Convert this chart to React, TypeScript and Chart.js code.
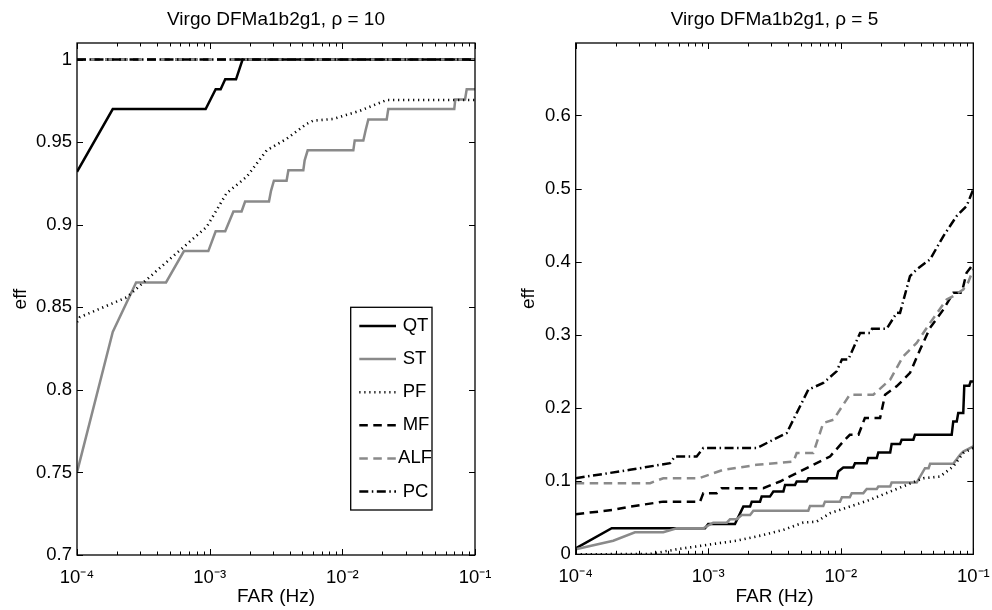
import React, { useEffect, useRef } from 'react';
import { Chart, registerables } from 'chart.js';
Chart.register(...registerables);

const FONT = "'Liberation Sans', Arial, Helvetica, sans-serif";

// ---- tick labels ----
const xTickValues = [1e-4, 1e-3, 1e-2, 1e-1];
const xTickLabels = ['10\u207B\u2074', '10\u207B\u00B3', '10\u207B\u00B2', '10\u207B\u00B9'];
const leftYTicks = [0.7, 0.75, 0.8, 0.85, 0.9, 0.95, 1];
const rightYTicks = [0, 0.1, 0.2, 0.3, 0.4, 0.5, 0.6];
const seriesNames = ['QT', 'ST', 'PF', 'MF', 'ALF', 'PC'];
const titleLeft = 'Virgo DFMa1b2g1, \u03C1 = 10';
const titleRight = 'Virgo DFMa1b2g1, \u03C1 = 5';

// ---- rho = 10 ----
const qt10X = [1e-4, 1.86e-4, 9.33e-4, 1.11e-3, 1.21e-3, 1.31e-3, 1.58e-3, 1.77e-3, 1e-1];
const qt10Y = [0.932, 0.97, 0.97, 0.982, 0.982, 0.988, 0.988, 1.0, 1.0];
const st10X = [1e-4, 1.86e-4, 2.79e-4, 4.69e-4, 6.4e-4, 9.77e-4, 1.11e-3, 1.31e-3, 1.51e-3, 1.74e-3, 1.85e-3, 2.8e-3, 2.9e-3, 3.05e-3, 3.8e-3, 3.92e-3, 5.08e-3, 5.2e-3, 5.48e-3, 1.21e-2, 1.24e-2, 1.44e-2, 1.5e-2, 1.57e-2, 2.16e-2, 2.22e-2, 6.98e-2, 7.1e-2, 8.41e-2, 8.66e-2, 1e-1];
const st10Y = [0.75, 0.835, 0.865, 0.865, 0.884, 0.884, 0.896, 0.896, 0.908, 0.908, 0.914, 0.914, 0.9205, 0.9266, 0.9266, 0.933, 0.933, 0.939, 0.945, 0.945, 0.951, 0.951, 0.9573, 0.9637, 0.9637, 0.97, 0.97, 0.9758, 0.9758, 0.982, 0.982];
const pf10X = [1e-4, 1.05e-4, 2.37e-4, 3.55e-4, 5.98e-4, 9.5e-4, 1.34e-3, 1.9e-3, 2.69e-3, 3.8e-3, 5.38e-3, 6.03e-3, 8.55e-3, 1.36e-2, 2.16e-2, 1e-1];
const pf10Y = [0.841, 0.844, 0.856, 0.8685, 0.8846, 0.8987, 0.919, 0.929, 0.945, 0.952, 0.961, 0.963, 0.964, 0.969, 0.9755, 0.9755];
const mf10X = [1e-4, 1e-1];
const mf10Y = [1, 1];
const alf10X = [1e-4, 1e-1];
const alf10Y = [1, 1];
const pc10X = [1e-4, 1e-1];
const pc10Y = [1, 1];

// ---- rho = 5 ----
const qt5X = [1e-4, 1.87e-4, 9.46e-4, 1e-3, 1.59e-3, 1.84e-3, 2.07e-3, 2.13e-3, 2.46e-3, 2.53e-3, 2.92e-3, 3.1e-3, 3.69e-3, 3.8e-3, 4.52e-3, 4.65e-3, 5.53e-3, 5.69e-3, 9.3e-3, 9.57e-3, 1.045e-2, 1.24e-2, 1.28e-2, 1.57e-2, 1.61e-2, 1.87e-2, 1.92e-2, 2.36e-2, 2.42e-2, 2.8e-2, 2.88e-2, 3.53e-2, 3.63e-2, 6.87e-2, 7.06e-2, 7.5e-2, 7.7e-2, 8.4e-2, 8.55e-2, 9.33e-2, 9.55e-2, 1e-1];
const qt5Y = [0.008, 0.0356, 0.0356, 0.0415, 0.0415, 0.0652, 0.0652, 0.072, 0.072, 0.0789, 0.0789, 0.0858, 0.0858, 0.0949, 0.0949, 0.0995, 0.0995, 0.104, 0.104, 0.1132, 0.1187, 0.1187, 0.1246, 0.1246, 0.1315, 0.1315, 0.1392, 0.1392, 0.1507, 0.1507, 0.1566, 0.1566, 0.1634, 0.1634, 0.1816, 0.1816, 0.1932, 0.1932, 0.2305, 0.2305, 0.2364, 0.2364];
const st5X = [1e-4, 1.92e-4, 2.8e-4, 4.58e-4, 5.78e-4, 9.18e-4, 1.09e-3, 1.38e-3, 1.46e-3, 1.64e-3, 1.79e-3, 2.07e-3, 2.19e-3, 5.69e-3, 5.86e-3, 7.38e-3, 7.6e-3, 9.87e-3, 1.02e-2, 1.17e-2, 1.21e-2, 1.48e-2, 1.57e-2, 1.87e-2, 1.92e-2, 2.36e-2, 2.42e-2, 3.74e-2, 4.32e-2, 4.6e-2, 4.72e-2, 7.06e-2, 7.94e-2, 8.4e-2, 1e-1];
const st5Y = [0.0068, 0.0186, 0.0301, 0.0301, 0.0356, 0.0356, 0.0433, 0.0433, 0.0479, 0.0479, 0.0538, 0.0538, 0.0597, 0.0597, 0.0662, 0.0662, 0.072, 0.072, 0.078, 0.078, 0.0836, 0.0836, 0.0894, 0.0894, 0.0926, 0.0926, 0.0981, 0.0981, 0.1178, 0.1178, 0.1237, 0.1237, 0.136, 0.1405, 0.1474];
const pf5X = [1e-4, 3.64e-4, 5.78e-4, 9.73e-4, 1.64e-3, 2.6e-3, 3.68e-3, 5.21e-3, 6.57e-3, 8.3e-3, 1.17e-2, 1.66e-2, 2.36e-2, 3.15e-2, 4.2e-2, 5.61e-2, 7.06e-2, 8.4e-2, 1e-1];
const pf5Y = [0, 0.0004, 0.0068, 0.0128, 0.0186, 0.0264, 0.0333, 0.0433, 0.0447, 0.0562, 0.0652, 0.0744, 0.0858, 0.0949, 0.104, 0.1063, 0.12, 0.1384, 0.1452];
const mf5X = [1e-4, 1.92e-4, 2.57e-4, 4.58e-4, 8.67e-4, 9.18e-4, 1.16e-3, 1.26e-3, 2.6e-3, 3.48e-3, 4.65e-3, 5.86e-3, 8.3e-3, 1.045e-2, 1.17e-2, 1.36e-2, 1.52e-2, 1.98e-2, 2.16e-2, 2.64e-2, 3.33e-2, 3.97e-2, 4.72e-2, 5.95e-2, 7.06e-2, 8.18e-2, 8.9e-2, 1e-1];
const mf5Y = [0.0548, 0.0607, 0.0652, 0.072, 0.072, 0.0836, 0.0836, 0.0904, 0.0904, 0.0995, 0.111, 0.12, 0.1337, 0.1542, 0.1634, 0.1634, 0.1863, 0.1863, 0.2182, 0.2296, 0.248, 0.2799, 0.3096, 0.3347, 0.3575, 0.3575, 0.385, 0.397];
const alf5X = [1e-4, 3.64e-4, 4.58e-4, 8.5e-4, 1.3e-3, 2.32e-3, 4.4e-3, 4.65e-3, 6.2e-3, 7.38e-3, 8.8e-3, 1.17e-2, 1.76e-2, 2.36e-2, 2.96e-2, 3.74e-2, 4.72e-2, 6.3e-2, 7.06e-2, 8.4e-2, 9.16e-2, 1e-1];
const alf5Y = [0.0973, 0.0973, 0.104, 0.104, 0.1155, 0.1223, 0.1269, 0.1384, 0.1384, 0.1795, 0.184, 0.2182, 0.2182, 0.2388, 0.2707, 0.289, 0.3164, 0.3484, 0.3529, 0.362, 0.372, 0.39];
const pc5X = [1e-4, 2.57e-4, 5.15e-4, 5.61e-4, 8.18e-4, 9.18e-4, 2.32e-3, 2.92e-3, 3.91e-3, 4.65e-3, 5.69e-3, 7.38e-3, 9.3e-3, 1.02e-2, 1.14e-2, 1.4e-2, 1.66e-2, 1.72e-2, 2.22e-2, 2.64e-2, 2.8e-2, 3.33e-2, 3.74e-2, 4.72e-2, 5.95e-2, 7.5e-2, 8.9e-2, 1e-1];
const pc5Y = [0.104, 0.1155, 0.1246, 0.1337, 0.1337, 0.1452, 0.1452, 0.1543, 0.1658, 0.1932, 0.2251, 0.2342, 0.2501, 0.2662, 0.2662, 0.3027, 0.3027, 0.3082, 0.3082, 0.3301, 0.33, 0.3803, 0.3895, 0.4032, 0.4351, 0.4625, 0.4762, 0.499];

const GRAY = '#8a8a8a';
const lineStyles = [
  { color: '#000', dash: [] as number[], width: 2.5 },
  { color: GRAY, dash: [] as number[], width: 2.5 },
  { color: '#000', dash: [1.2, 3.8], width: 2.6 },
  { color: '#000', dash: [8.5, 5.5], width: 2.5 },
  { color: GRAY, dash: [8.5, 5.5], width: 2.5 },
  { color: '#000', dash: [9, 3.5, 1.5, 3.5], width: 2.5 },
];

const zip = (xs: number[], ys: number[]) => xs.map((x, i) => ({ x, y: ys[i] }));

const matlabFrame = {
  id: 'matlabFrame',
  afterDatasetsDraw(chart: any, _args: any, opts: any) {
    const { ctx, chartArea } = chart;
    const { left, right, top, bottom } = chartArea;
    const xs = chart.scales.x;
    const ys = chart.scales.y;
    ctx.save();
    ctx.strokeStyle = '#000';
    ctx.lineWidth = 1;
    ctx.setLineDash([]);
    for (let e = -4; e <= -1; e++) {
      for (let m = 1; m <= 9; m++) {
        const v = m * Math.pow(10, e);
        if (v < xs.min * 0.999 || v > xs.max * 1.001) continue;
        const px = Math.round(xs.getPixelForValue(v)) + 0.5;
        const len = m === 1 ? 6 : 3.5;
        ctx.beginPath();
        ctx.moveTo(px, bottom);
        ctx.lineTo(px, bottom - len);
        ctx.moveTo(px, top);
        ctx.lineTo(px, top + len);
        ctx.stroke();
      }
    }
    for (const t of ys.ticks) {
      const py = Math.round(ys.getPixelForValue(t.value)) + 0.5;
      ctx.beginPath();
      ctx.moveTo(left, py);
      ctx.lineTo(left + 6, py);
      ctx.moveTo(right, py);
      ctx.lineTo(right - 6, py);
      ctx.stroke();
    }
    ctx.lineWidth = 1.3;
    ctx.strokeRect(left, top, right - left, bottom - top);

    ctx.fillStyle = '#000';
    ctx.font = `19px ${FONT}`;
    ctx.textAlign = 'center';
    ctx.textBaseline = 'middle';
    ctx.fillText(opts.title, (left + right) / 2, opts.titleY);

    if (opts.legend) {
      const L = opts.legend;
      const bx = right - L.right - L.width;
      const by = bottom - L.bottom - L.height;
      ctx.fillStyle = '#fff';
      ctx.fillRect(bx, by, L.width, L.height);
      ctx.font = `18.5px ${FONT}`;
      ctx.textAlign = 'left';
      ctx.textBaseline = 'middle';
      chart.data.datasets.forEach((ds: any, i: number) => {
        const y = by + L.firstRow + i * L.rowGap;
        ctx.save();
        ctx.strokeStyle = ds.borderColor;
        ctx.lineWidth = ds.borderWidth;
        ctx.setLineDash(ds.borderDash || []);
        ctx.lineCap = 'butt';
        ctx.beginPath();
        ctx.moveTo(bx + L.lineX0, y);
        ctx.lineTo(bx + L.lineX1, y);
        ctx.stroke();
        ctx.restore();
        ctx.fillStyle = '#000';
        const w = ctx.measureText(ds.label).width;
        let tx = bx + L.textX;
        if (tx + w > bx + L.width) tx = bx + L.width - w;
        ctx.fillText(ds.label, tx, y);
      });
      ctx.strokeStyle = '#000';
      ctx.lineWidth = 1.3;
      ctx.setLineDash([]);
      ctx.strokeRect(bx, by, L.width, L.height);
    }
    ctx.restore();
  },
};

type PanelProps = {
  left: number;
  xs: number[][];
  ysArr: number[][];
  yMin: number;
  yMax: number;
  yTicks: number[];
  axisWidth: number;
  axisHeight: number;
  padRight: number;
  padTop: number;
  yTitlePad: number;
  title: string;
  legend: any;
};

function Panel(p: PanelProps) {
  const ref = useRef<HTMLCanvasElement | null>(null);
  useEffect(() => {
    if (!ref.current) return;
    const datasets = seriesNames.map((name, i) => ({
      label: name,
      data: zip(p.xs[i], p.ysArr[i]),
      borderColor: lineStyles[i].color,
      backgroundColor: lineStyles[i].color,
      borderWidth: lineStyles[i].width,
      borderDash: lineStyles[i].dash,
      borderCapStyle: 'butt',
      pointRadius: 0,
      tension: 0,
      fill: false,
      order: 5 - i,
    }));
    const chart = new Chart(ref.current, {
      type: 'line',
      data: { datasets },
      plugins: [matlabFrame],
      options: {
        animation: false,
        responsive: false,
        maintainAspectRatio: false,
        layout: { padding: { left: 0, right: p.padRight, top: p.padTop, bottom: 0 } },
        plugins: {
          legend: { display: false },
          tooltip: { enabled: false },
          title: { display: false },
          matlabFrame: { title: p.title, titleY: 20, legend: p.legend },
        } as any,
        scales: {
          x: {
            type: 'logarithmic',
            min: 1e-4,
            max: 1e-1,
            grid: { display: false, drawTicks: false },
            border: { display: false },
            afterBuildTicks: (s: any) => {
              s.ticks = xTickValues.map((v) => ({ value: v }));
            },
            afterFit: (s: any) => {
              s.height = p.axisHeight;
              s.paddingLeft = 0;
              s.paddingRight = 0;
            },
            ticks: {
              autoSkip: false,
              maxRotation: 0,
              minRotation: 0,
              padding: 12,
              color: '#000',
              font: { family: FONT, size: 18.5 },
              callback: (v: any) => {
                const i = xTickValues.indexOf(Number(v));
                return i >= 0 ? xTickLabels[i] : '';
              },
            },
            title: {
              display: true,
              text: 'FAR (Hz)',
              color: '#000',
              font: { family: FONT, size: 19 },
              padding: { top: 0, bottom: 2 },
            },
          },
          y: {
            type: 'linear',
            min: p.yMin,
            max: p.yMax,
            grid: { display: false, drawTicks: false },
            border: { display: false },
            afterBuildTicks: (s: any) => {
              s.ticks = p.yTicks.map((v) => ({ value: v }));
            },
            afterFit: (s: any) => {
              s.width = p.axisWidth;
              s.paddingTop = 0;
              s.paddingBottom = 0;
            },
            ticks: {
              padding: 5,
              color: '#000',
              font: { family: FONT, size: 18.5 },
              callback: (v: any) => String(Math.round(Number(v) * 1000) / 1000),
            },
            title: {
              display: true,
              text: 'eff',
              color: '#000',
              font: { family: FONT, size: 19 },
              padding: { top: p.yTitlePad, bottom: 0 },
            },
          },
        },
      } as any,
    });
    return () => chart.destroy();
  }, []);
  return (
    <canvas
      ref={ref}
      width={496}
      height={610}
      style={{ position: 'absolute', left: p.left, top: 0, width: 496, height: 610 }}
    />
  );
}

export default function App() {
  return (
    <div style={{ position: 'absolute', left: 0, top: 0, width: 992, height: 610, background: '#fff', overflow: 'hidden' }}>
      <Panel
        left={0}
        xs={[qt10X, st10X, pf10X, mf10X, alf10X, pc10X]}
        ysArr={[qt10Y, st10Y, pf10Y, mf10Y, alf10Y, pc10Y]}
        yMin={0.7}
        yMax={1.01}
        yTicks={leftYTicks}
        axisWidth={77}
        axisHeight={55}
        padRight={21}
        padTop={43}
        yTitlePad={9.6}
        title={titleLeft}
        legend={{ right: 43, bottom: 45, width: 81.3, height: 202.7, firstRow: 18.7, rowGap: 33.1, lineX0: 8.6, lineX1: 45.3, textX: 52 }}
      />
      <Panel
        left={496}
        xs={[qt5X, st5X, pf5X, mf5X, alf5X, pc5X]}
        ysArr={[qt5Y, st5Y, pf5Y, mf5Y, alf5Y, pc5Y]}
        yMin={0}
        yMax={0.699}
        yTicks={rightYTicks}
        axisWidth={79.7}
        axisHeight={55.7}
        padRight={18.7}
        padTop={43}
        yTitlePad={21.6}
        title={titleRight}
        legend={null}
      />
    </div>
  );
}
